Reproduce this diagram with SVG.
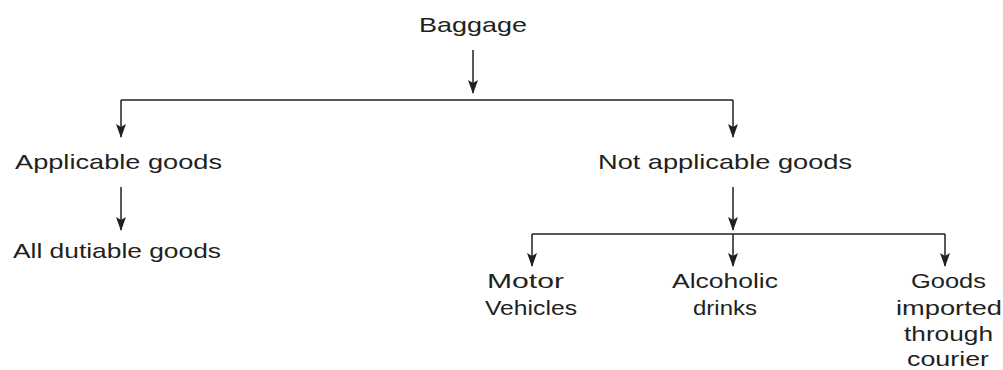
<svg xmlns="http://www.w3.org/2000/svg" width="1003" height="370" viewBox="0 0 1003 370">
<style>
text{font-family:"Liberation Sans",Arial,sans-serif;font-size:21px;fill:#231f20;text-anchor:middle}
.c{stroke:#231f20;stroke-width:1.5;fill:none}
.a{stroke:#231f20;stroke-width:1.5;fill:none;marker-end:url(#ah)}
</style>
<defs>
<marker id="ah" viewBox="0 0 14 10" refX="13" refY="5" markerWidth="14" markerHeight="10" markerUnits="userSpaceOnUse" orient="auto">
<path d="M0,0 L14,5 L0,10 L3,5 z" fill="#231f20"/>
</marker>
</defs>
<rect width="1003" height="370" fill="#fff"/>
<g id="connectors">
<path class="a" d="M473,50 V93"/>
<path class="c" d="M121,100 H733"/>
<path class="a" d="M121,100 V137"/>
<path class="a" d="M733,100 V137"/>
<path class="a" d="M121,187 V230"/>
<path class="a" d="M733,187 V230"/>
<path class="c" d="M532,234 H945"/>
<path class="a" d="M532,234 V266"/>
<path class="a" d="M733,234 V266"/>
<path class="a" d="M945,234 V266"/>
</g>
<g id="baggage"><text x="473" y="32" textLength="108" lengthAdjust="spacingAndGlyphs">Baggage</text></g>
<g id="applicable"><text x="118.5" y="169" textLength="207" lengthAdjust="spacingAndGlyphs">Applicable goods</text></g>
<g id="not-applicable"><text x="725" y="169" textLength="254" lengthAdjust="spacingAndGlyphs">Not applicable goods</text></g>
<g id="dutiable"><text x="117" y="258" textLength="208" lengthAdjust="spacingAndGlyphs">All dutiable goods</text></g>
<g id="motor">
<text x="525.5" y="288" textLength="77" lengthAdjust="spacingAndGlyphs">Motor</text>
<text x="531" y="315" textLength="92" lengthAdjust="spacingAndGlyphs">Vehicles</text>
</g>
<g id="alcoholic">
<text x="725" y="288" textLength="106" lengthAdjust="spacingAndGlyphs">Alcoholic</text>
<text x="725" y="315" textLength="64" lengthAdjust="spacingAndGlyphs">drinks</text>
</g>
<g id="courier">
<text x="948.5" y="288" textLength="75" lengthAdjust="spacingAndGlyphs">Goods</text>
<text x="949" y="315" textLength="106" lengthAdjust="spacingAndGlyphs">imported</text>
<text x="948.5" y="341" textLength="89" lengthAdjust="spacingAndGlyphs">through</text>
<text x="948" y="366" textLength="82" lengthAdjust="spacingAndGlyphs">courier</text>
</g>
</svg>
